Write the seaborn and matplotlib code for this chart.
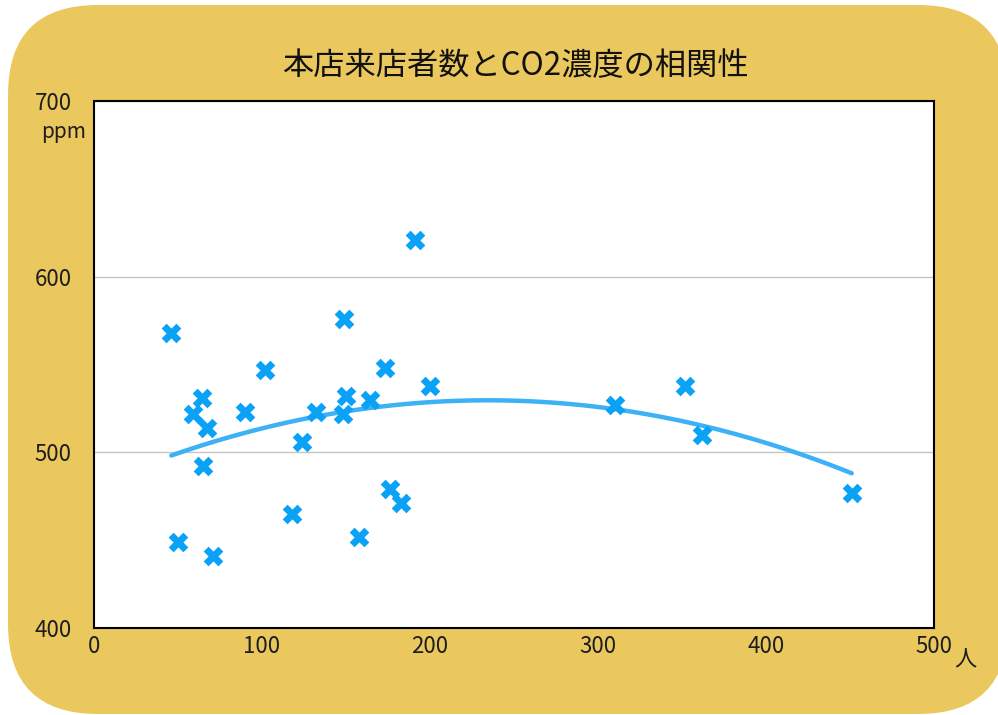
import numpy as np
import pandas as pd
import matplotlib
matplotlib.use("Agg")
import matplotlib.pyplot as plt
import seaborn as sns
from matplotlib.patches import FancyBboxPatch

# --- data ---
visitors = [46, 50, 59, 64, 65, 67, 71, 90, 102, 118, 124, 132, 149, 148, 150,
            158, 164, 173, 176, 183, 191, 200, 310, 352, 362, 451]
co2_ppm = [568, 449, 522, 531, 492, 514, 441, 523, 547, 465, 506, 523, 576, 522, 532,
           452, 530, 548, 479, 471, 621, 538, 527, 538, 510, 477]
x_ticks = [0, 100, 200, 300, 400, 500]
y_ticks = [400, 500, 600, 700]
title = "本店来店者数とCO2濃度の相関性"

df = pd.DataFrame({"visitors": visitors, "co2": co2_ppm})

sns.set_style("white")
plt.rcParams["font.family"] = ["Noto Sans CJK JP", "DejaVu Sans"]

fig = plt.figure(figsize=(9.98, 7.15), dpi=100)
fig.patch.set_facecolor("white")

# rounded yellow panel behind everything
bg = FancyBboxPatch((0.08, 0.01), 10.0, 7.09,
                    boxstyle="round,pad=0,rounding_size=0.9",
                    transform=fig.dpi_scale_trans, facecolor="#ebc85d",
                    edgecolor="none", zorder=-5)
fig.patches.append(bg)

ax = fig.add_axes([0.0942, 0.1217, 0.8417, 0.737])
ax.set_zorder(2)
ax.set_facecolor("white")

sns.regplot(data=df, x="visitors", y="co2", order=2, ci=None, truncate=True,
            scatter=False, ax=ax,
            line_kws={"color": "#3cb1f5", "linewidth": 3.2, "zorder": 2})
sns.scatterplot(data=df, x="visitors", y="co2", marker="X", s=200,
                color="#0aa2f7", linewidth=0, ax=ax, zorder=3)

ax.set_xlim(0, 500)
ax.set_ylim(400, 700)
ax.set_xticks(x_ticks)
ax.set_yticks(y_ticks)
ax.set_xlabel("")
ax.set_ylabel("")
ax.yaxis.grid(True, color="#c4c4c4", linewidth=1)
ax.set_axisbelow(True)
ax.tick_params(axis="both", length=0, labelsize=16, colors="#1e1e1e")
ax.tick_params(axis="y", pad=16)
ax.tick_params(axis="x", pad=5)
for sp in ax.spines.values():
    sp.set_color("black")
    sp.set_linewidth(1.5)

ax.text(-0.009, 0.941, "ppm", transform=ax.transAxes, ha="right", va="center",
        fontsize=15, color="#1e1e1e")
ax.text(1.024, -0.061, "人", transform=ax.transAxes, ha="left", va="center",
        fontsize=16, color="#1e1e1e")

fig.text(0.516, 0.907, title, ha="center", va="center", fontsize=22.5, color="#111111")

fig.savefig("out.png", dpi=100, facecolor=fig.get_facecolor())
